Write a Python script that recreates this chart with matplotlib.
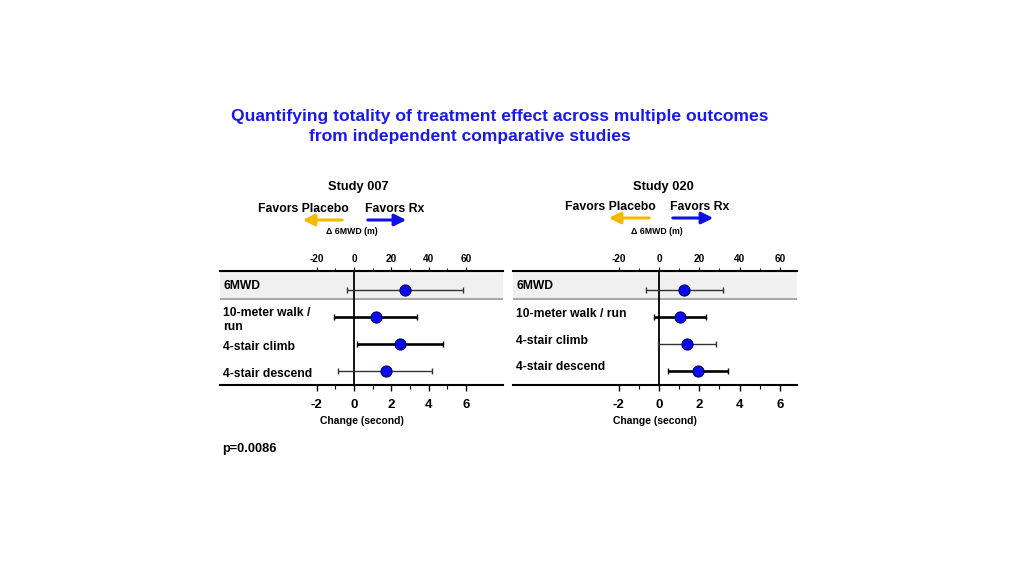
import matplotlib
matplotlib.use('Agg')
import matplotlib.pyplot as plt
from matplotlib.patches import FancyArrowPatch
from matplotlib.ticker import FixedLocator

plt.rcParams['font.family'] = ['Liberation Sans', 'DejaVu Sans']
plt.rcParams['font.weight'] = 'bold'
plt.rcParams['axes.unicode_minus'] = False

outcomes = ['6MWD', '10-meter walk / run', '4-stair climb', '4-stair descend']
labels_007 = ['6MWD', '10-meter walk /\nrun', '4-stair climb', '4-stair descend']

# change in seconds (6MWD shown on the metre axis, 10 m per second-unit)
est_007 = [2.73, 1.16, 2.47, 1.70]
lo_007 = [-0.40, -1.07, 0.14, -0.84]
hi_007 = [5.85, 3.40, 4.80, 4.20]
thick_007 = [False, True, True, False]

est_020 = [1.25, 1.04, 1.40, 1.92]
lo_020 = [-0.66, -0.23, -0.03, 0.43]
hi_020 = [3.18, 2.33, 2.82, 3.40]
thick_020 = [False, True, False, True]

bottom_ticks = [-2, 0, 2, 4, 6]
top_ticks = [-20, 0, 20, 40, 60]

W, H = 1024, 576
BLUE_TITLE = '#1a1ae6'
YELLOW = '#f5b800'
ARROW_BLUE = '#1010e0'


def fx(x):
    return x / W


def fy(y):
    return 1 - y / H


def panel(fig, box, xlim, labels, est, lo, hi, thick, label_dy):
    x0, x1, ytop, ybot = box
    ax = fig.add_axes([fx(x0), fy(ybot), fx(x1 - x0), (ybot - ytop) / H])
    n = len(labels)
    ax.set_xlim(*xlim)
    ax.set_ylim(3.52, -0.7)
    ax.axhspan(-0.7, 0.33, color='#f0f0f0', zorder=0)
    ax.axhline(0.33, color='#9a9a9a', lw=1.2, zorder=1)
    ax.axvline(0, color='black', lw=1.3, zorder=2)
    for i in range(n):
        lw = 1.9 if thick[i] else 1.0
        col = 'black' if thick[i] else '#333333'
        ax.errorbar(est[i], i, xerr=[[est[i] - lo[i]], [hi[i] - est[i]]],
                    fmt='none', ecolor=col, elinewidth=lw, capsize=2,
                    capthick=1.0, zorder=3)
        ax.plot(est[i], i, 'o', ms=8, mfc='#0a0aee', mec='#000066',
                mew=0.8, zorder=4)
        ax.text(0.012, i + label_dy[i], labels[i], transform=ax.get_yaxis_transform(),
                fontsize=8.7, fontweight='bold', va='center', ha='left',
                linespacing=1.25)
    for s in ['left', 'right']:
        ax.spines[s].set_visible(False)
    ax.spines['top'].set_linewidth(1.5)
    ax.spines['bottom'].set_linewidth(1.5)
    ax.set_yticks([])
    ax.xaxis.set_major_locator(FixedLocator(bottom_ticks))
    ax.xaxis.set_minor_locator(FixedLocator([-1, 1, 3, 5]))
    ax.tick_params(axis='x', which='major', labelsize=9.5, length=4, width=1, pad=6)
    ax.tick_params(axis='x', which='minor', length=3, width=0.8)
    for t in ax.get_xticklabels():
        t.set_fontweight('bold')
    ax.set_xlabel('Change (second)', fontsize=7.5, fontweight='bold', labelpad=4)

    top = ax.secondary_xaxis('top', functions=(lambda v: v * 10, lambda v: v / 10))
    top.xaxis.set_major_locator(FixedLocator(top_ticks))
    top.xaxis.set_minor_locator(FixedLocator([-10, 10, 30, 50]))
    top.tick_params(axis='x', which='major', labelsize=7.2, length=3, width=0.8, pad=2)
    top.tick_params(axis='x', which='minor', length=2, width=0.6)
    top.spines['top'].set_visible(False)
    for t in top.get_xticklabels():
        t.set_fontweight('bold')
    return ax


def header(fig, cx, study, y_study, y_fav, y_arrow, fav_pl_x, fav_rx_x, arrow_pl, arrow_rx):
    fig.text(fx(cx), fy(y_study), study, fontsize=9.3, fontweight='bold',
             ha='center', va='center')
    fig.text(fx(fav_pl_x), fy(y_fav), 'Favors Placebo', fontsize=8.8,
             fontweight='bold', ha='center', va='center')
    fig.text(fx(fav_rx_x), fy(y_fav), 'Favors Rx', fontsize=8.8,
             fontweight='bold', ha='center', va='center')
    for (xa, xb), col in [(arrow_pl, YELLOW), (arrow_rx, ARROW_BLUE)]:
        arr = FancyArrowPatch((fx(xa), fy(y_arrow)), (fx(xb), fy(y_arrow)),
                              transform=fig.transFigure,
                              arrowstyle='-|>,head_length=7,head_width=3.5',
                              color=col, lw=2.2, mutation_scale=1)
        fig.add_artist(arr)
    fig.text(fx(cx - 6), fy(232), '\u0394 6MWD (m)', fontsize=6.3, fontweight='bold',
             ha='center', va='center')


fig = plt.figure(figsize=(W / 100, H / 100), dpi=100)

fig.text(fx(500), fy(117), 'Quantifying totality of treatment effect across multiple outcomes',
         fontsize=12.6, fontweight='bold', color=BLUE_TITLE, ha='center', va='center')
fig.text(fx(470), fy(137), 'from independent comparative studies',
         fontsize=12.6, fontweight='bold', color=BLUE_TITLE, ha='center', va='center')

header(fig, 358, 'Study 007', 187, 209, 220, 303, 395, (345, 300), (365, 409))
header(fig, 663, 'Study 020', 187, 207, 218, 610, 700, (652, 606), (670, 716))

panel(fig, (220, 503, 271, 385), (-7.2, 8.0), labels_007,
      est_007, lo_007, hi_007, thick_007, [-0.15, 0.1, 0.1, 0.1])
panel(fig, (513, 797, 271, 385), (-7.25, 6.85), outcomes,
      est_020, lo_020, hi_020, thick_020, [-0.15, -0.1, -0.1, -0.15])

fig.text(fx(222), fy(449), 'p=0.0086', fontsize=9.2, fontweight='bold',
         ha='left', va='center')

fig.savefig('out.png', dpi=100)
